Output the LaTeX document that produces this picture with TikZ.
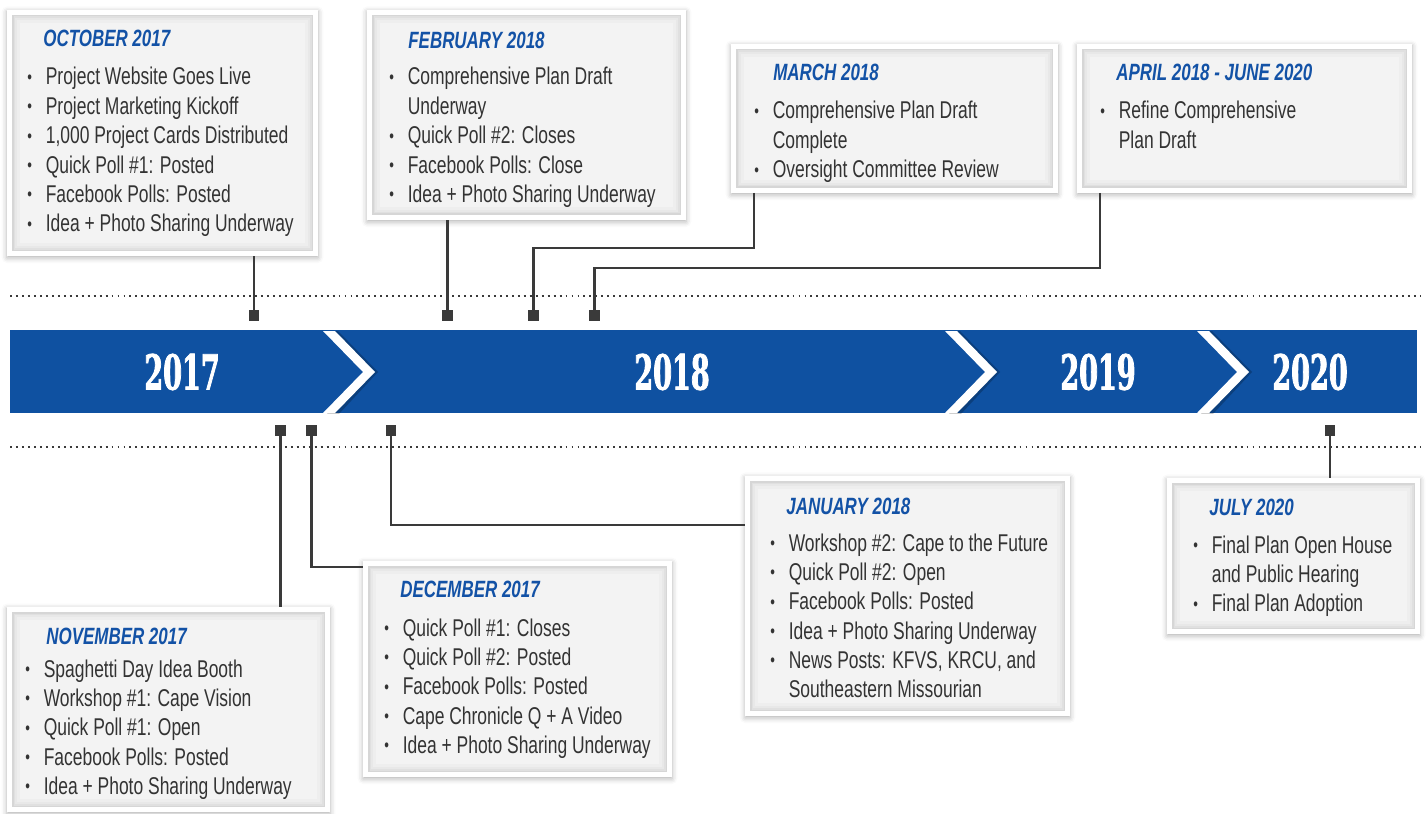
\documentclass[tikz,border=0pt]{standalone}
\usepackage{fontspec}
\setmainfont{Liberation Sans}[FakeStretch=0.72]
\newfontfamily\yearfont{DejaVu Serif}[FakeStretch=0.56,BoldFeatures={FakeBold=1.6}]
\usetikzlibrary{fit,shadows.blur,calc}
\definecolor{band}{HTML}{0F51A1}
\definecolor{ttl}{HTML}{1352A6}
\definecolor{txt}{HTML}{333333}
\definecolor{cline}{HTML}{3A3A3A}
\definecolor{ga}{HTML}{D6D6D6}
\definecolor{gb}{HTML}{E0E0E0}
\definecolor{gc}{HTML}{E8E8E8}
\definecolor{gd}{HTML}{EEEEEE}
\definecolor{ge}{HTML}{F3F3F3}
\newcommand\bu{\raisebox{0.9pt}{\fontsize{10.5}{10.5}\selectfont\textbullet}}
\newcommand\bb{\makebox[10.5pt][l]{\bu}}
\tikzset{
  evframe/.style={fill=white,inner sep=0pt,outer sep=0pt,
    blur shadow={shadow xshift=0pt,shadow yshift=-1pt,shadow blur radius=3pt,shadow opacity=30}},
  evtitle/.style={font=\fontsize{13.4}{14}\selectfont\bfseries\itshape,text=ttl,inner sep=0pt,anchor=base west},
  evtext/.style={font=\fontsize{13.8}{16.7}\selectfont,text=txt,inner sep=0pt,anchor=base west},
  conn/.style={draw=cline,line width=1.5pt},
  sq/.style={fill=cline,minimum size=6.2pt,inner sep=0pt,outer sep=0pt},
  dotline/.style={draw=cline,line width=1.1pt,dash pattern=on 1.1pt off 2.3pt},
  yr/.style={font=\yearfont\bfseries\fontsize{27.5}{27.5}\selectfont,text=white,inner sep=0pt},
  chev/.style={fill=white},
}
\newcommand\evbox[5]{%
  \node[evframe,fit={(#2,#3) (#4,#5)}] (#1) {};
  \foreach \ins/\col in {5/ga,6.5/gb,8/gc,10/gd,13/ge}
    \fill[\col] ($(#2,#3)+(\ins,\ins)$) rectangle ($(#4,#5)-(\ins,\ins)$);
}
\begin{document}
\begin{tikzpicture}[x=0.02cm,y=-0.02cm]
\useasboundingbox (0,0) rectangle (1426,814);
% dotted guide lines
\path[dotline] (10,296) -- (1420,296);
\path[dotline] (10,447) -- (1420,447);
% band
\node[fill=band,inner sep=0pt,outer sep=0pt,fit={(10,330) (1417,413)}] (band) {};
\begin{scope}
  \clip (10,330) rectangle (1417,413);
  \foreach \cx in {323,945,1197}{
    \fill[black,opacity=0.22] (\cx+3,331) -- (\cx+15,331) -- (\cx+55,372) -- (\cx+15,415) -- (\cx+3,415) -- (\cx+43,372) -- cycle;
    \fill[chev] (\cx,331) -- (\cx+12,331) -- (\cx+52,372) -- (\cx+12,413) -- (\cx,413) -- (\cx+40,372) -- cycle;
  }
\end{scope}
\node[yr] (y2017) at (182,372) {2017};
\node[yr] (y2018) at (672,372) {2018};
\node[yr] (y2019) at (1098,372) {2019};
\node[yr] (y2020) at (1310,372) {2020};
% boxes
\evbox{oct}{7}{10}{318}{256}
\evbox{feb}{367}{10}{686}{220}
\evbox{mar}{731}{44}{1058}{193}
\evbox{apr}{1077}{44}{1412}{193}
\evbox{nov}{7}{607}{330}{812}
\evbox{dec}{363}{561}{672}{777}
\evbox{jan}{745}{476}{1070}{716}
\evbox{jul}{1167}{478}{1420}{634}
% titles
\node[evtitle] (octT) at (43,47) {OCTOBER 2017};
\node[evtitle] (febT) at (408,49) {FEBRUARY\ 2018};
\node[evtitle] (marT) at (773,81) {MARCH 2018};
\node[evtitle] (aprT) at (1116,81) {APRIL 2018 - JUNE\ 2020};
\node[evtitle] (novT) at (46,644) {NOVEMBER 2017};
\node[evtitle] (decT) at (400,597) {DECEMBER 2017};
\node[evtitle] (janT) at (786,514) {JANUARY 2018};
\node[evtitle] (julT) at (1209,515) {JULY 2020};
% items
\node[evtext] (octL) at (27,85) {\begin{tabular}[t]{@{}l@{}l@{}}
\bb & Project Website Goes Live\\
\bb & Project Marketing Kickoff\\
\bb & 1,000 Project Cards Distributed\\
\bb & Quick Poll \#1: Posted\\
\bb & Facebook Polls: Posted\\
\bb & Idea + Photo Sharing Underway
\end{tabular}};
\node[evtext] (febL) at (389,85) {\begin{tabular}[t]{@{}l@{}l@{}}
\bb & Comprehensive Plan Draft\\
    & Underway\\
\bb & Quick Poll \#2: Closes\\
\bb & Facebook Polls: Close\\
\bb & Idea + Photo Sharing Underway
\end{tabular}};
\node[evtext] (marL) at (754,119) {\begin{tabular}[t]{@{}l@{}l@{}}
\bb & Comprehensive Plan Draft\\
    & Complete\\
\bb & Oversight Committee Review
\end{tabular}};
\node[evtext] (aprL) at (1100,119) {\begin{tabular}[t]{@{}l@{}l@{}}
\bb & Refine Comprehensive\\
    & Plan Draft
\end{tabular}};
\node[evtext] (novL) at (25,677) {\begin{tabular}[t]{@{}l@{}l@{}}
\bb & Spaghetti Day Idea Booth\\
\bb & Workshop \#1: Cape Vision\\
\bb & Quick Poll \#1: Open\\
\bb & Facebook Polls: Posted\\
\bb & Idea + Photo Sharing Underway
\end{tabular}};
\node[evtext] (decL) at (384,636) {\begin{tabular}[t]{@{}l@{}l@{}}
\bb & Quick Poll \#1: Closes\\
\bb & Quick Poll \#2: Posted\\
\bb & Facebook Polls: Posted\\
\bb & Cape Chronicle Q + A Video\\
\bb & Idea + Photo Sharing Underway
\end{tabular}};
\node[evtext] (janL) at (770,551) {\begin{tabular}[t]{@{}l@{}l@{}}
\bb & Workshop \#2: Cape to the Future\\
\bb & Quick Poll \#2: Open\\
\bb & Facebook Polls: Posted\\
\bb & Idea + Photo Sharing Underway\\
\bb & News Posts: KFVS, KRCU, and\\
    & Southeastern Missourian
\end{tabular}};
\node[evtext] (julL) at (1193,553) {\begin{tabular}[t]{@{}l@{}l@{}}
\bb & Final Plan Open House\\
    & and Public Hearing\\
\bb & Final Plan Adoption
\end{tabular}};
% squares
\node[sq] (sqOct) at (254,315.5) {};
\node[sq] (sqFeb) at (447.5,315.5) {};
\node[sq] (sqMar) at (533.5,315.5) {};
\node[sq] (sqApr) at (594.5,315.5) {};
\node[sq] (sqNov) at (280.5,430.5) {};
\node[sq] (sqDec) at (311.5,430.5) {};
\node[sq] (sqJan) at (391,430.5) {};
\node[sq] (sqJul) at (1330,430.5) {};
% connector attach points on boxes
\coordinate (marC) at (754,193);
\coordinate (aprC) at (1100,193);
% connectors
\draw[conn] (sqOct) -- (sqOct |- oct.south);
\draw[conn] (sqFeb) -- (sqFeb |- feb.south);
\draw[conn] (marC) -- ++(0,55) -| (sqMar);
\draw[conn] (aprC) -- ++(0,75) -| (sqApr);
\draw[conn] (sqNov) -- (sqNov |- nov.north);
\draw[conn] (sqDec) |- ($(dec.north west)+(0,6)$);
\draw[conn] (sqJan) |- ($(jan.north west)+(0,49)$);
\draw[conn] (sqJul) -- (sqJul |- jul.north);
\end{tikzpicture}
\end{document}
